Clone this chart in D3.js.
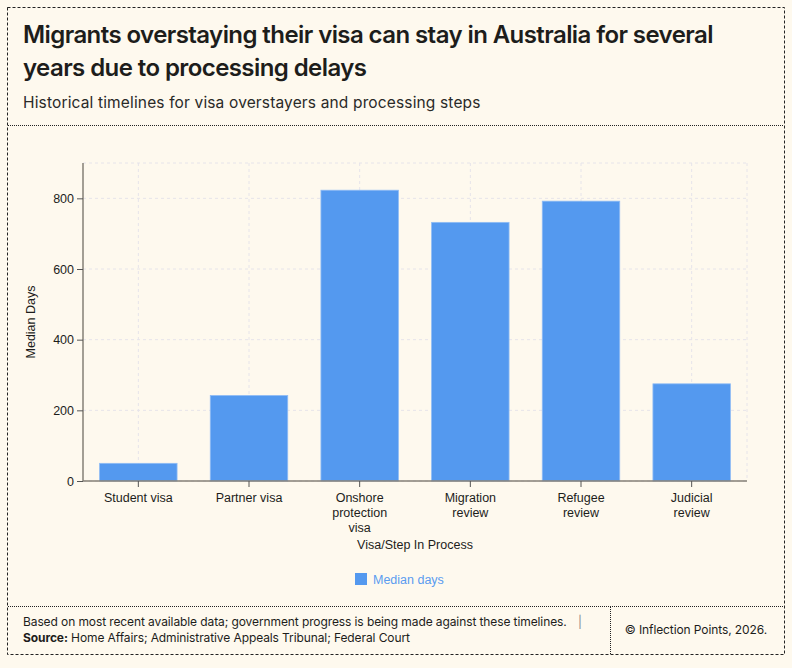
<!DOCTYPE html>
<html>
<head>
<meta charset="utf-8">
<script src="https://cdn.jsdelivr.net/npm/d3@7"></script>
<style>
  html, body { margin: 0; padding: 0; background: #fef9ee; }
  svg { display: block; }
</style>
</head>
<body>
<div id="chart"></div>
<script>
// data
const categories = [
  ['Student visa'],
  ['Partner visa'],
  ['Onshore', 'protection', 'visa'],
  ['Migration', 'review'],
  ['Refugee', 'review'],
  ['Judicial', 'review']
];
const medianDays = [50, 242, 823, 732, 792, 275];
const yTicks = [0, 200, 400, 600, 800];

const width = 792;
const height = 668;
const margin = { top: 163, bottom: 187, left: 83, right: 45 };

const svg = d3.select('#chart')
  .append('svg')
  .attr('width', width)
  .attr('height', height);

svg.append('rect').attr('width', width).attr('height', height).attr('fill', '#fef9ee');

// frame
svg.append('rect')
  .attr('x', 7.5).attr('y', 7.5).attr('width', 777).attr('height', 647)
  .attr('fill', 'none').attr('stroke', '#222').attr('stroke-dasharray', '3,2');
svg.append('line')
  .attr('x1', 8).attr('x2', 784).attr('y1', 125.5).attr('y2', 125.5)
  .attr('stroke', '#222').attr('stroke-dasharray', '1,1');
svg.append('line')
  .attr('x1', 8).attr('x2', 784).attr('y1', 606.5).attr('y2', 606.5)
  .attr('stroke', '#222').attr('stroke-dasharray', '1,1');
svg.append('line')
  .attr('x1', 610.5).attr('x2', 610.5).attr('y1', 607).attr('y2', 654)
  .attr('stroke', '#222').attr('stroke-dasharray', '1,1');

// titles
const title = svg.append('text')
  .attr('font-family', 'Inter, sans-serif')
  .attr('font-weight', 600)
  .attr('font-size', 24)
  .attr('letter-spacing', -0.58)
  .attr('fill', '#1d1d1b');
title.append('tspan').attr('x', 23).attr('y', 43)
  .text('Migrants overstaying their visa can stay in Australia for several');
title.append('tspan').attr('x', 23).attr('y', 76)
  .text('years due to processing delays');

svg.append('text')
  .attr('x', 23).attr('y', 108)
  .attr('font-family', 'Inter, sans-serif')
  .attr('font-size', 15.5)
  .attr('letter-spacing', 0.15)
  .attr('fill', '#2a2a28')
  .text('Historical timelines for visa overstayers and processing steps');

// scales
const x = d3.scaleBand()
  .domain(d3.range(categories.length))
  .range([margin.left, width - margin.right])
  .paddingInner(0.3)
  .paddingOuter(0.15);

const y = d3.scaleLinear()
  .domain([0, 900])
  .range([height - margin.bottom, margin.top]);

// grid
const grid = svg.append('g')
  .attr('stroke', '#e6e4ea')
  .attr('stroke-dasharray', '3,3');
grid.selectAll('line.h')
  .data(yTicks.concat([900]))
  .join('line')
    .attr('class', 'h')
    .attr('x1', margin.left).attr('x2', width - margin.right)
    .attr('y1', d => y(d)).attr('y2', d => y(d));
grid.selectAll('line.v')
  .data(d3.range(categories.length))
  .join('line')
    .attr('class', 'v')
    .attr('x1', d => x(d) + x.bandwidth() / 2)
    .attr('x2', d => x(d) + x.bandwidth() / 2)
    .attr('y1', y(900)).attr('y2', y(0));
grid.append('line')
  .attr('x1', width - margin.right).attr('x2', width - margin.right)
  .attr('y1', y(900)).attr('y2', y(0));

// bars
svg.append('g')
  .selectAll('rect')
  .data(medianDays)
  .join('rect')
    .attr('x', (d, i) => x(i))
    .attr('y', d => y(d))
    .attr('width', x.bandwidth())
    .attr('height', d => y(0) - y(d))
    .attr('fill', '#5499ef')
    .attr('stroke', '#8fbcf5')
    .attr('stroke-width', 0.8);

// axes
function yAxis(g) {
  g.attr('transform', `translate(${margin.left},0)`)
    .call(d3.axisLeft(y).tickValues(yTicks).tickSize(6).tickPadding(3))
    .attr('font-family', 'Liberation Sans, Arial, sans-serif')
    .attr('font-size', 12.5);
  g.select('.domain').attr('stroke', '#857f76').attr('stroke-width', 1.5).attr('d', `M0,${y(900)}V${y(0)}`);
  g.selectAll('.tick line').attr('stroke', '#555');
  g.selectAll('.tick text').attr('fill', '#1d1d1b');
}

function xAxis(g) {
  g.attr('transform', `translate(0,${y(0)})`)
    .call(d3.axisBottom(x).tickSize(6).tickFormat(''))
    .attr('font-family', 'Liberation Sans, Arial, sans-serif')
    .attr('font-size', 12.5);
  g.select('.domain').attr('stroke', '#857f76').attr('stroke-width', 1.5).attr('d', `M${margin.left},0H${width - margin.right}`);
  g.selectAll('.tick line').attr('stroke', '#555');
  g.selectAll('.tick text').remove();
  g.selectAll('.tick').each(function (i) {
    const t = d3.select(this).append('text')
      .attr('fill', '#1d1d1b')
      .attr('text-anchor', 'middle');
    categories[i].forEach((line, k) => {
      t.append('tspan').attr('x', 0).attr('y', 21 + k * 15).text(line);
    });
  });
}

svg.append('g').call(xAxis);
svg.append('g').call(yAxis);

// axis titles
svg.append('text')
  .attr('transform', `translate(35,${(y(0) + y(900)) / 2}) rotate(-90)`)
  .attr('text-anchor', 'middle')
  .attr('font-family', 'Liberation Sans, Arial, sans-serif')
  .attr('font-size', 12.5)
  .attr('fill', '#1d1d1b')
  .text('Median Days');

svg.append('text')
  .attr('x', (margin.left + width - margin.right) / 2)
  .attr('y', 549)
  .attr('text-anchor', 'middle')
  .attr('font-family', 'Liberation Sans, Arial, sans-serif')
  .attr('font-size', 12.5)
  .attr('fill', '#1d1d1b')
  .text('Visa/Step In Process');

// legend
const legend = svg.append('g').attr('transform', 'translate(355,573)');
legend.append('rect').attr('width', 12).attr('height', 12).attr('fill', '#5499ef');
legend.append('text')
  .attr('x', 18).attr('y', 11)
  .attr('font-family', 'Liberation Sans, Arial, sans-serif')
  .attr('font-size', 12.5)
  .attr('fill', '#5b9cf0')
  .text('Median days');

// footer
const foot = svg.append('g')
  .attr('font-family', 'Inter, sans-serif')
  .attr('font-size', 12)
  .attr('letter-spacing', -0.1)
  .attr('fill', '#1d1d1b');
foot.append('text').attr('x', 23).attr('y', 626)
  .text('Based on most recent available data; government progress is being made against these timelines.');
foot.append('text').attr('x', 578).attr('y', 626).attr('fill', '#888').text('|');
const src = foot.append('text').attr('x', 23).attr('y', 642);
src.append('tspan').attr('font-weight', 700).text('Source:');
src.append('tspan').text(' Home Affairs; Administrative Appeals Tribunal; Federal Court');
foot.append('text')
  .attr('x', 767).attr('y', 634)
  .attr('text-anchor', 'end')
  .attr('font-size', 12)
  .text('© Inflection Points, 2026.');
</script>
</body>
</html>
